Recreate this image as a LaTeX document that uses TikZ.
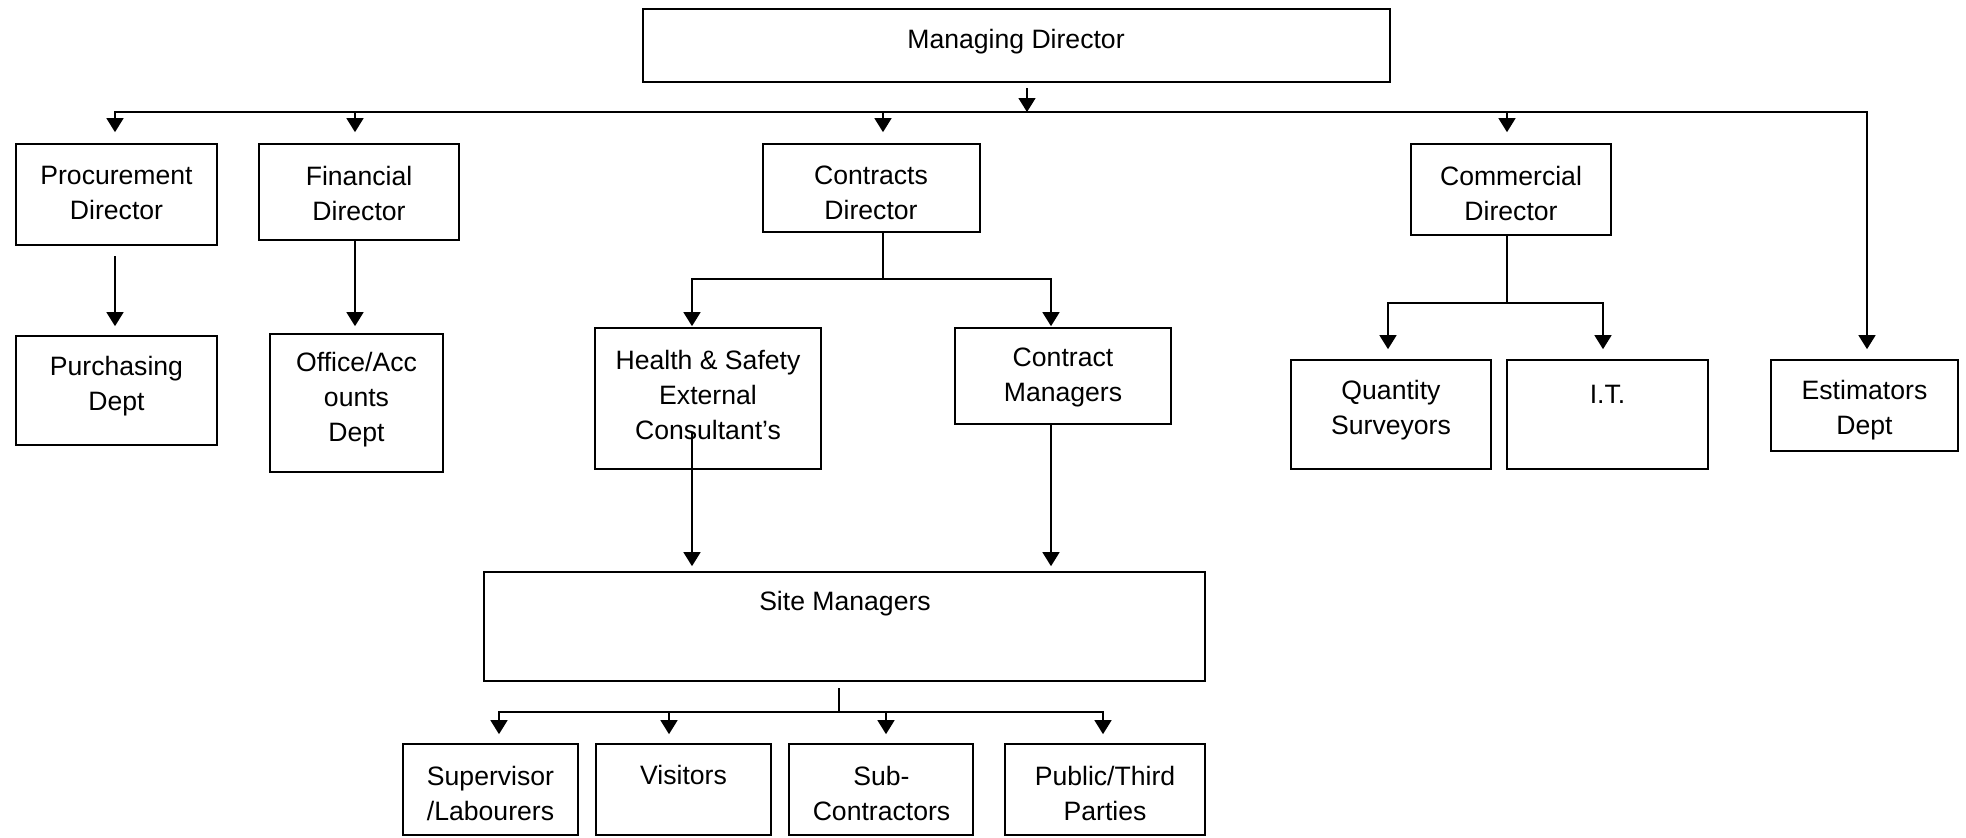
\documentclass[tikz,border=0pt]{standalone}
\usepackage{fontspec}
\setmainfont{Liberation Sans}
\usetikzlibrary{arrows.meta}
\newcommand\mkbox[5]{\node[box, minimum width={(#4-#2)*0.5pt}, minimum height={(#5-#3)*0.5pt}] (#1) at ({(#2+#4)/2},{(#3+#5)/2}) {};}
\begin{document}
\begin{tikzpicture}[x=0.5pt,y=-0.5pt,
  box/.style={draw, line width=0.85pt, inner sep=0pt},
  txt/.style={align=center, inner sep=0pt, font=\fontsize{13.3}{17.5}\selectfont},
  line/.style={line width=0.75pt},
  arr/.style={line width=0.75pt, -{Triangle[length=7pt,width=8.5pt]}},
  arrb/.style={line width=0.75pt, {Triangle[length=7pt,width=8.5pt]}-{Triangle[length=7pt,width=8.5pt]}}]
\useasboundingbox (0,0) rectangle (1966,837);
% boxes
\mkbox{md}{643}{9}{1390}{82}
\mkbox{proc}{16}{144}{217}{245}
\mkbox{fin}{259}{144}{459}{240}
\mkbox{con}{763}{144}{980}{232}
\mkbox{com}{1411}{144}{1611}{235}
\mkbox{purch}{16}{336}{217}{445}
\mkbox{office}{270}{334}{443}{472}
\mkbox{hs}{595}{328}{821}{469}
\mkbox{cm}{955}{328}{1171}{424}
\mkbox{qs}{1291}{360}{1491}{469}
\mkbox{it}{1507}{360}{1708}{469}
\mkbox{est}{1771}{360}{1958}{451}
\mkbox{site}{484}{572}{1205}{681}
\mkbox{sup}{403}{744}{578}{835}
\mkbox{vis}{596}{744}{771}{835}
\mkbox{sub}{789}{744}{973}{835}
\mkbox{pub}{1005}{744}{1205}{835}
% texts
\node[txt] (mdT) at (1016,42) {Managing Director};
\node[txt] (procT) at (116.5,193) {Procurement\\Director};
\node[txt] (finT) at (359,193) {Financial\\Director};
\node[txt] (conT) at (871,193) {Contracts\\Director};
\node[txt] (comT) at (1511,193) {Commercial\\Director};
\node[txt] (purchT) at (116.5,386) {Purchasing\\Dept};
\node[txt] (officeT) at (356.5,400) {Office/Acc\\ounts\\Dept};
\node[txt] (hsT) at (708,395) {Health \& Safety\\External\\Consultant’s};
\node[txt] (cmT) at (1063,377) {Contract\\Managers};
\node[txt] (qsT) at (1391,410) {Quantity\\Surveyors};
\node[txt] (itT) at (1607.5,394) {I.T.};
\node[txt] (estT) at (1864.5,410) {Estimators\\Dept};
\node[txt] (siteT) at (845,604) {Site Managers};
\node[txt] (supT) at (490.5,793) {Supervisor\\/Labourers};
\node[txt] (visT) at (683.5,775) {Visitors};
\node[txt] (subT) at (881.5,793) {Sub-\\Contractors};
\node[txt] (pubT) at (1105,793) {Public/Third\\Parties};
% top bus
\coordinate (mdOut) at (1027,88);
\coordinate (bM) at (1027,112);
\coordinate (bP) at (115,112);
\coordinate (bF) at (355,112);
\coordinate (bC) at (883,112);
\coordinate (bK) at (1507,112);
\coordinate (bR) at (1867,112);
\draw[arr] (mdOut) -- (bM);
\draw[arrb, shorten <=5.5pt, shorten >=5pt] (bP |- proc.north) -- (bP) -- (bR) -- (bR |- est.north);
\draw[arr, shorten >=5.5pt] (bF) -- (bF |- fin.north);
\draw[arr, shorten >=5.5pt] (bC) -- (bC |- con.north);
\draw[arr, shorten >=5.5pt] (bK) -- (bK |- com.north);
% procurement / financial
\coordinate (pOut) at (115,256);
\draw[arr, shorten >=4.5pt] (pOut) -- (pOut |- purch.north);
\draw[arr, shorten >=3.5pt] (fin.south -| bF) -- (bF |- office.north);
% contracts branch
\coordinate (cJ) at (883,279);
\coordinate (cH) at (692,279);
\coordinate (cM) at (1051,279);
\draw[line] (con.south -| cJ) -- (cJ);
\draw[arrb, shorten <=0.5pt, shorten >=0.5pt] (cH |- hs.north) -- (cH) -- (cM) -- (cM |- cm.north);
% commercial branch
\coordinate (kJ) at (1507,303);
\coordinate (kQ) at (1388,303);
\coordinate (kI) at (1603,303);
\draw[line] (com.south -| kJ) -- (kJ);
\draw[arrb, shorten <=5pt, shorten >=5pt] (kQ |- qs.north) -- (kQ) -- (kI) -- (kI |- it.north);
% to site managers
\coordinate (hsIn) at (692,433);
\draw[arr, shorten >=2.5pt] (hsIn) -- (hsIn |- site.north);
\draw[arr, shorten >=2.5pt] (cm.south -| cM) -- (cM |- site.north);
% site managers branch
\coordinate (sOut) at (839,688);
\coordinate (sJ) at (839,712);
\coordinate (s1) at (499,712);
\coordinate (s2) at (669,712);
\coordinate (s3) at (886,712);
\coordinate (s4) at (1103,712);
\draw[line] (sOut) -- (sJ);
\draw[arrb, shorten <=4.5pt, shorten >=4.5pt] (s1 |- sup.north) -- (s1) -- (s4) -- (s4 |- pub.north);
\draw[arr, shorten >=4.5pt] (s2) -- (s2 |- vis.north);
\draw[arr, shorten >=4.5pt] (s3) -- (s3 |- sub.north);
\end{tikzpicture}
\end{document}
